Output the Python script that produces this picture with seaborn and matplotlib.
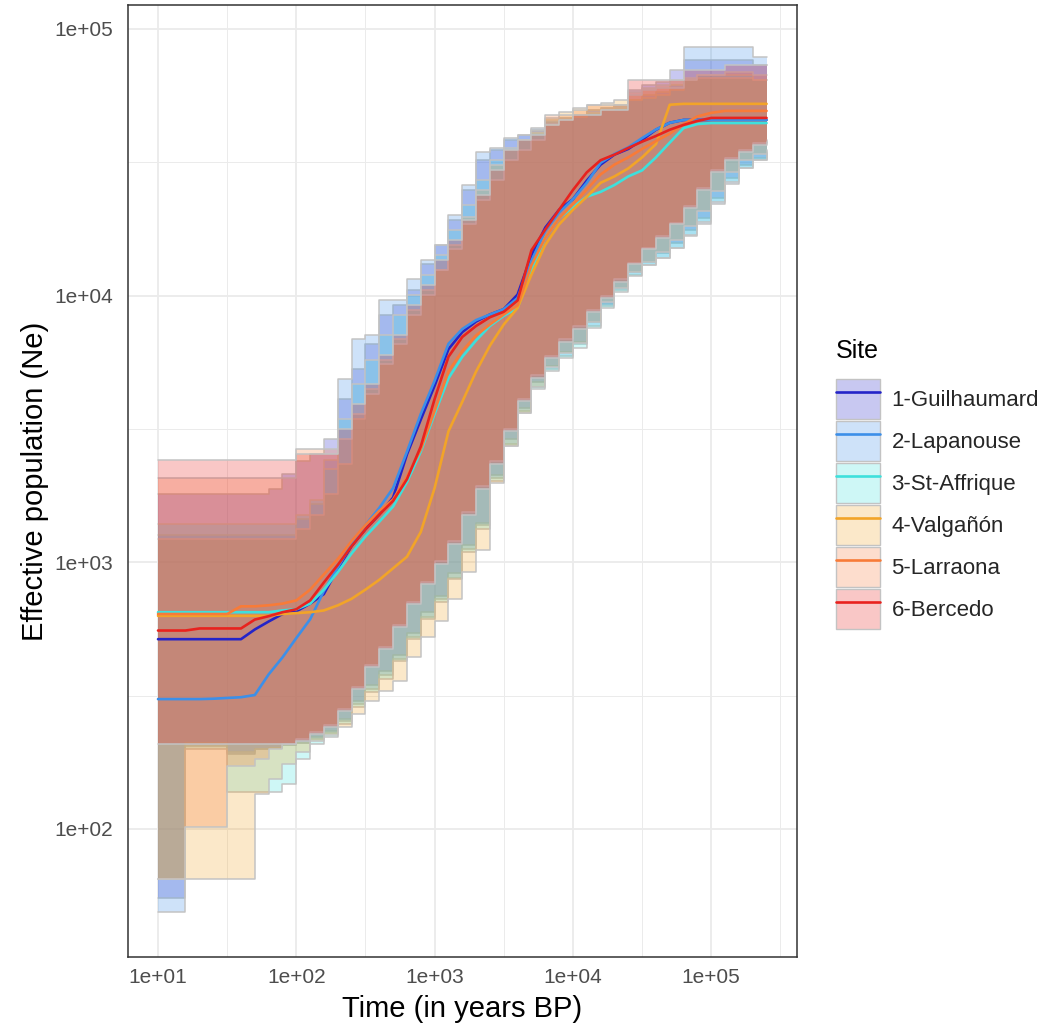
import numpy as np
import pandas as pd
import matplotlib
matplotlib.use("Agg")
import matplotlib.pyplot as plt
import matplotlib.colors as mcolors
import seaborn as sns
from matplotlib.patches import Patch
from matplotlib.lines import Line2D
from matplotlib.ticker import FixedLocator, FixedFormatter, NullFormatter

# ---------------- data ----------------
SITES = ["1-Guilhaumard", "2-Lapanouse", "3-St-Affrique",
         "4-Valgañón", "5-Larraona", "6-Bercedo"]
COLORS = ["#2424C8", "#3C8FE8", "#3EE0DC", "#F2A428", "#F87B38", "#E8221E"]

TIME = [10, 12.6, 15.8, 20, 25.1, 31.6, 39.8, 50.1, 63.1, 79.4,
        100, 126, 158, 200, 251, 316, 398, 501, 631, 794,
        1000, 1259, 1585, 1995, 2512, 3162, 3981, 5012, 6310, 7943,
        10000, 12589, 15849, 19953, 25119, 31623, 39811, 50119, 63096, 79433,
        100000, 125893, 158489, 199526, 251189]

MED_GUILHAUMARD = [515, 515, 515, 515, 515, 515, 515, 560, 600, 640,
                   655, 700, 760, 950, 1150, 1330, 1510, 1750, 2540, 3430,
                   4600, 6300, 7300, 8000, 8500, 8900, 10100, 14200, 18000, 21000,
                   23000, 27000, 31000, 33800, 35500, 38400, 41900, 44500, 45600, 45600,
                   45600, 45600, 45600, 45600, 45600]
MED_LAPANOUSE = [307, 307, 307, 307, 308, 310, 312, 318, 380, 440,
                 520, 612, 780, 960, 1170, 1380, 1600, 1900, 2600, 3600,
                 4800, 6600, 7500, 8100, 8500, 8900, 9800, 13500, 17500, 20500,
                 23000, 26500, 31500, 34000, 36000, 39000, 42000, 44500, 45600, 45600,
                 45600, 45600, 45600, 45600, 45600]
MED_STAFFRIQUE = [650, 650, 650, 650, 650, 650, 650, 650, 650, 660,
                  667, 700, 790, 920, 1080, 1250, 1420, 1620, 2000, 2600,
                  3600, 4900, 5900, 6800, 7700, 8400, 9000, 12500, 16500, 19500,
                  21500, 23500, 24500, 26000, 28000, 29500, 33000, 37500, 42500, 44000,
                  44400, 44400, 44400, 44400, 44400]
MED_VALGANON = [630, 630, 630, 630, 630, 630, 630, 630, 630, 640,
                645, 650, 660, 690, 730, 790, 860, 950, 1050, 1300,
                1900, 3100, 4000, 5200, 6500, 7800, 9000, 12000, 15500, 18500,
                21000, 23500, 26500, 28000, 30000, 33000, 37000, 52000, 52400, 52400,
                52400, 52400, 52400, 52400, 52400]
MED_LARRAONA = [640, 640, 640, 640, 640, 640, 684, 684, 690, 700,
                720, 790, 900, 1030, 1200, 1380, 1560, 1720, 2100, 2650,
                3700, 5200, 6200, 7100, 7800, 8500, 9200, 13000, 16500, 19500,
                22000, 25000, 28500, 31000, 33000, 35500, 38000, 40500, 44000, 47000,
                48500, 49300, 49300, 49300, 49300]
MED_BERCEDO = [555, 555, 555, 565, 565, 565, 565, 610, 628, 650,
               667, 720, 840, 980, 1150, 1330, 1510, 1700, 2050, 2720,
               4100, 5900, 7000, 7700, 8300, 8700, 9600, 14800, 17700, 21000,
               24900, 29000, 32200, 33800, 35800, 37800, 39700, 41900, 43700, 45200,
               46400, 46400, 46400, 46400, 46400]

LO_GUILHAUMARD = [55, 55, 204, 204, 204, 191, 191, 199, 202, 206,
                  210, 221, 233, 258, 302, 346, 391, 448, 543, 650,
                  746, 910, 1160, 1410, 2120, 2890, 3800, 4730, 5470, 6170,
                  6720, 8000, 9330, 10700, 12300, 13400, 14400, 15700, 17700, 19600,
                  23300, 27700, 31000, 32900, 34600]
UP_GUILHAUMARD = [1800, 1800, 1800, 1800, 1800, 1800, 1800, 1800, 1880, 2140,
                  2390, 2540, 2890, 4080, 5290, 6560, 8490, 9250, 10500, 13100,
                  15500, 19300, 24900, 32300, 35200, 38400, 40100, 41900, 44900, 46400,
                  47600, 49700, 50600, 51900, 59100, 61700, 63300, 70200, 76600, 76600,
                  76600, 76600, 76600, 73300, 73300]
LO_LAPANOUSE = [49, 49, 210, 210, 210, 195, 195, 199, 202, 206,
                210, 217, 229, 254, 294, 334, 378, 433, 524, 622,
                727, 876, 1120, 1380, 2080, 2790, 3680, 4530, 5290, 5960,
                6560, 7720, 9170, 10500, 12000, 13000, 13900, 15100, 16800, 18600,
                22100, 26300, 30200, 32300, 34000]
UP_LAPANOUSE = [1270, 1270, 1270, 1270, 1270, 1270, 1270, 1270, 1270, 1270,
                1450, 1650, 2430, 4850, 6850, 7150, 9660, 9660, 11500, 13600,
                15500, 20100, 26100, 34600, 35800, 39100, 40100, 42600, 45600, 46400,
                47600, 49700, 50600, 51500, 54200, 56600, 58000, 61700, 85600, 85600,
                85600, 85600, 85600, 78500, 78500]
LO_STAFFRIQUE = [65, 65, 199, 199, 199, 138, 138, 138, 138, 147,
                 183, 208, 221, 247, 286, 325, 365, 426, 515, 612,
                 708, 864, 1090, 1330, 2010, 2740, 3620, 4450, 5200, 5860,
                 6380, 7590, 9020, 10300, 11900, 13000, 13900, 15100, 16900, 18900,
                 22500, 26700, 30200, 32300, 34000]
UP_STAFFRIQUE = [1390, 1390, 1390, 1390, 1390, 1390, 1390, 1390, 1390, 1390,
                 1510, 1720, 2230, 3440, 4650, 5760, 7150, 8490, 10100, 12000,
                 14200, 17700, 21900, 27200, 32300, 35800, 38400, 40800, 43700, 45600,
                 46800, 48400, 49700, 50600, 54200, 55100, 56600, 59100, 64400, 67300,
                 67300, 67300, 67300, 64400, 64400]
LO_VALGANON = [65, 65, 65, 65, 65, 65, 65, 135, 154, 175,
               195, 214, 225, 241, 270, 302, 328, 360, 440, 524,
               601, 727, 918, 1110, 1980, 2740, 3620, 4530, 5380, 6120,
               6670, 8000, 9490, 10700, 12300, 13400, 14600, 16200, 18300, 20800,
               24600, 29100, 32300, 34000, 35200]
UP_VALGANON = [1220, 1220, 1220, 1220, 1220, 1220, 1220, 1220, 1220, 1220,
               1330, 1510, 1800, 2330, 3440, 4450, 5760, 6850, 8870, 10500,
               12500, 15500, 19700, 25000, 31000, 35200, 38400, 41900, 46400, 48800,
               50600, 51900, 52800, 54200, 58000, 60100, 61700, 64400, 65500, 65500,
               65500, 65500, 65500, 64400, 64400]
LO_LARRAONA = [65, 65, 102, 102, 102, 172, 172, 183, 199, 208,
               217, 231, 245, 281, 340, 411, 480, 581, 708, 842,
               1010, 1200, 1550, 1930, 2390, 3150, 4080, 5020, 5960, 6850,
               7720, 8870, 10000, 11500, 13300, 15100, 16800, 18800, 21700, 25400,
               29700, 32900, 35200, 37400, 38400]
UP_LARRAONA = [2080, 2080, 2080, 2080, 2080, 2080, 2080, 2080, 2080, 2080,
               2650, 2650, 2650, 2890, 3590, 4260, 5520, 6560, 8490, 10100,
               12500, 14900, 18500, 22900, 27200, 32300, 35200, 38400, 47600, 47600,
               49700, 51900, 51900, 51900, 56600, 59100, 60100, 60100, 64400, 67300,
               67300, 69000, 69000, 67300, 67300]
LO_BERCEDO = [208, 208, 208, 208, 208, 208, 208, 208, 208, 208,
              214, 227, 241, 276, 334, 404, 472, 570, 696, 827,
              983, 1170, 1510, 1880, 2330, 3100, 4010, 4920, 5860, 6730,
              7530, 8710, 9820, 11300, 13100, 14900, 16500, 18500, 21400, 25000,
              29100, 32300, 34600, 36800, 37700]
UP_BERCEDO = [2430, 2430, 2430, 2430, 2430, 2430, 2430, 2430, 2430, 2430,
              2540, 2540, 2540, 3150, 3910, 4650, 6010, 7150, 9260, 11000,
              13600, 16200, 19300, 23900, 29700, 35200, 38400, 40100, 43700, 45600,
              47600, 47600, 49700, 49700, 64400, 64400, 64400, 64400, 70200, 70200,
              70200, 73300, 73300, 73300, 73300]

MEDIANS = [MED_GUILHAUMARD, MED_LAPANOUSE, MED_STAFFRIQUE,
           MED_VALGANON, MED_LARRAONA, MED_BERCEDO]
LOWERS = [LO_GUILHAUMARD, LO_LAPANOUSE, LO_STAFFRIQUE,
          LO_VALGANON, LO_LARRAONA, LO_BERCEDO]
UPPERS = [UP_GUILHAUMARD, UP_LAPANOUSE, UP_STAFFRIQUE,
          UP_VALGANON, UP_LARRAONA, UP_BERCEDO]

X_BREAKS = [1e1, 1e2, 1e3, 1e4, 1e5]
X_LABELS = ["1e+01", "1e+02", "1e+03", "1e+04", "1e+05"]
Y_BREAKS = [1e2, 1e3, 1e4, 1e5]
Y_LABELS = ["1e+02", "1e+03", "1e+04", "1e+05"]
X_MINOR = [31.6228, 316.228, 3162.28, 31622.8, 316228]
Y_MINOR = [316.228, 3162.28, 31622.8]

# ---------------- style ----------------
sns.set_style("white")
plt.rcParams["font.family"] = ["Liberation Sans", "DejaVu Sans"]

fig = plt.figure(figsize=(10.48, 10.32), dpi=100)
ax = fig.add_axes([128 / 1048, 1 - 957 / 1032, (797 - 128) / 1048, (957 - 5) / 1032])

ax.set_xscale("log")
ax.set_yscale("log")

FILL_ALPHA = 0.25
OUTLINE = "#C3C3C3"

# ribbons (drawn site by site, like ggplot groups)
for lo, hi, col in zip(LOWERS, UPPERS, COLORS):
    ax.fill_between(TIME, lo, hi, step="post", facecolor=col, alpha=FILL_ALPHA,
                    linewidth=0, zorder=2)
    ax.step(TIME, lo, where="post", color=OUTLINE, lw=1.1, zorder=2)
    ax.step(TIME, hi, where="post", color=OUTLINE, lw=1.1, zorder=2)

# median lines via seaborn
frames = []
for site, med in zip(SITES, MEDIANS):
    frames.append(pd.DataFrame({"Time": TIME, "Ne": med, "Site": site}))
df = pd.concat(frames, ignore_index=True)
sns.lineplot(data=df, x="Time", y="Ne", hue="Site", hue_order=SITES,
             palette=COLORS, estimator=None, sort=False, legend=False,
             linewidth=1.9, ax=ax, zorder=5)

ax.set_xlim(10 ** 0.783, 10 ** 5.62)
ax.set_ylim(10 ** 1.52, 10 ** 5.09)

ax.xaxis.set_major_locator(FixedLocator(X_BREAKS))
ax.xaxis.set_major_formatter(FixedFormatter(X_LABELS))
ax.xaxis.set_minor_locator(FixedLocator(X_MINOR))
ax.xaxis.set_minor_formatter(NullFormatter())
ax.yaxis.set_major_locator(FixedLocator(Y_BREAKS))
ax.yaxis.set_major_formatter(FixedFormatter(Y_LABELS))
ax.yaxis.set_minor_locator(FixedLocator(Y_MINOR))
ax.yaxis.set_minor_formatter(NullFormatter())

ax.set_axisbelow(True)
ax.grid(True, which="major", color="#EBEBEB", linewidth=1.3, zorder=0)
ax.grid(True, which="minor", color="#EBEBEB", linewidth=0.7, zorder=0)

ax.tick_params(which="major", length=5.5, width=1.0, color="#333333",
               labelcolor="#4D4D4D", labelsize=15)
ax.tick_params(axis="x", which="major", pad=2.5)
ax.tick_params(axis="y", which="major", pad=5)
ax.tick_params(which="minor", length=0)
for sp in ax.spines.values():
    sp.set_color("#333333")
    sp.set_linewidth(1.1)
    sp.set_visible(True)

ax.set_xlabel("Time (in years BP)", fontsize=21, color="black", labelpad=6)
ax.set_ylabel("Effective population (Ne)", fontsize=21, color="black", labelpad=4)

# legend
handles = []
for col in COLORS:
    patch = Patch(facecolor=mcolors.to_rgba(col, FILL_ALPHA), edgecolor=OUTLINE,
                  linewidth=1.0)
    line = Line2D([0], [0], color=col, lw=1.9)
    handles.append((patch, line))
fig.text(836 / 1048, 1 - 351 / 1032, "Site", fontsize=18, color="black",
         ha="left", va="center")
leg = fig.legend(handles, SITES, loc="upper left",
                 bbox_to_anchor=(836 / 1048, 1 - 379 / 1032),
                 frameon=False, fontsize=16,
                 handlelength=2.0, handleheight=2.39, labelspacing=0.09,
                 handletextpad=0.5, borderpad=0, borderaxespad=0)

fig.savefig("out.png", dpi=100)
